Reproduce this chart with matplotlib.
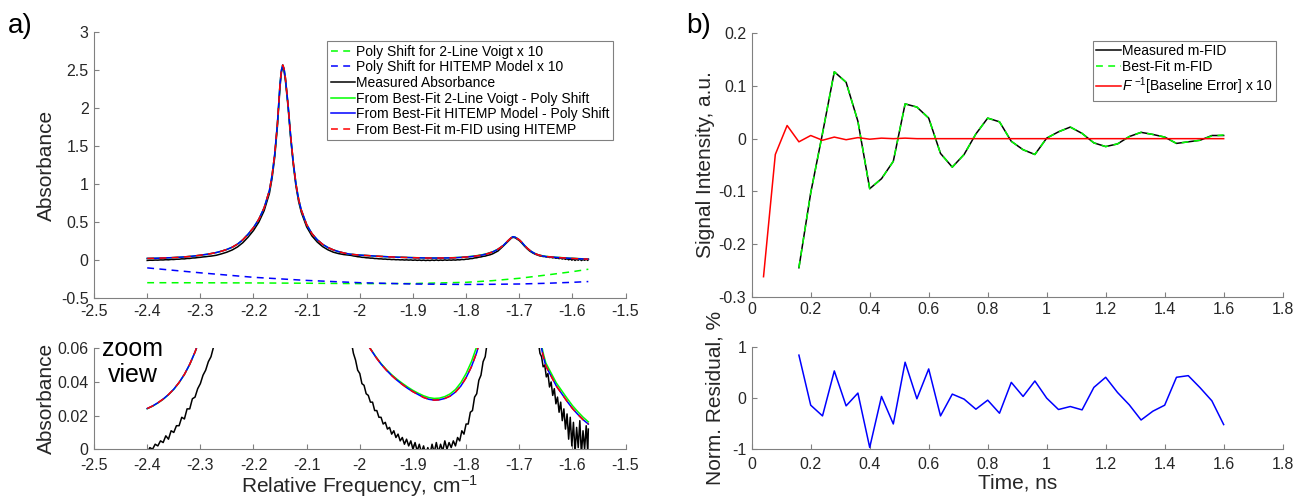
import numpy as np
import matplotlib
matplotlib.use("Agg")
import matplotlib.pyplot as plt
from matplotlib.ticker import FormatStrFormatter

plt.rcParams['font.family'] = ['Liberation Sans', 'DejaVu Sans']
plt.rcParams['mathtext.fontset'] = 'custom'
plt.rcParams['mathtext.rm'] = 'Liberation Sans'
plt.rcParams['mathtext.it'] = 'Liberation Sans:italic'
plt.rcParams['axes.unicode_minus'] = False

# ---------------- panel a): absorbance spectra (read from the figure) ----------------
fit_x = [-2.40, -2.39, -2.38, -2.37, -2.36, -2.35, -2.34, -2.33, -2.32, -2.31,
         -2.30, -2.29, -2.28, -2.27, -2.26, -2.25, -2.24, -2.23, -2.22, -2.21,
         -2.20, -2.19, -2.18, -2.17, -2.165, -2.16, -2.155, -2.15, -2.1475, -2.145,
         -2.1425, -2.14, -2.135, -2.13, -2.125, -2.12, -2.115, -2.11, -2.10, -2.09,
         -2.08, -2.07, -2.06, -2.05, -2.04, -2.03, -2.02, -2.01, -2.00, -1.99,
         -1.98, -1.97, -1.96, -1.95, -1.94, -1.93, -1.92, -1.91, -1.90, -1.89,
         -1.88, -1.87, -1.86, -1.85, -1.84, -1.83, -1.82, -1.81, -1.80, -1.79,
         -1.78, -1.77, -1.76, -1.75, -1.74, -1.73, -1.725, -1.72, -1.715, -1.712,
         -1.708, -1.70, -1.695, -1.69, -1.685, -1.68, -1.675, -1.67, -1.665, -1.66,
         -1.655, -1.65, -1.64, -1.63, -1.62, -1.61, -1.60, -1.59, -1.58, -1.57]

# best-fit HITEMP model (blue) and m-FID fit (red) coincide
fit_hitemp = [0.0242, 0.0257, 0.0276, 0.0298, 0.0325, 0.0357, 0.0397, 0.0445, 0.0505, 0.0578,
              0.0665, 0.0765, 0.0880, 0.1020, 0.1200, 0.1430, 0.1720, 0.2130, 0.2700, 0.3450,
              0.4300, 0.5400, 0.6900, 0.9200, 1.1200, 1.4000, 1.8000, 2.3300, 2.5000, 2.5700,
              2.5200, 2.4000, 2.0500, 1.6300, 1.2800, 1.0000, 0.8000, 0.6600, 0.4700, 0.3500,
              0.2700, 0.2100, 0.1680, 0.1370, 0.1140, 0.0960, 0.0820, 0.0745, 0.0685, 0.0640,
              0.0596, 0.0548, 0.0506, 0.0470, 0.0438, 0.0410, 0.0385, 0.0362, 0.0342, 0.0325,
              0.0308, 0.0297, 0.0292, 0.0294, 0.0302, 0.0316, 0.0340, 0.0375, 0.0425, 0.0490,
              0.0575, 0.0690, 0.0860, 0.1100, 0.1450, 0.1950, 0.2300, 0.2650, 0.2970, 0.3100,
              0.3050, 0.2700, 0.2350, 0.1950, 0.1600, 0.1300, 0.1060, 0.0870, 0.0730, 0.0630,
              0.0555, 0.0495, 0.0435, 0.0375, 0.0330, 0.0285, 0.0243, 0.0208, 0.0176, 0.0150]

# best-fit 2-line Voigt (green)
fit_voigt = [0.0241, 0.0256, 0.0275, 0.0297, 0.0324, 0.0356, 0.0396, 0.0444, 0.0504, 0.0577,
             0.0664, 0.0765, 0.0880, 0.1020, 0.1200, 0.1430, 0.1720, 0.2130, 0.2700, 0.3450,
             0.4300, 0.5400, 0.6900, 0.9200, 1.1200, 1.4000, 1.8000, 2.3300, 2.5000, 2.5700,
             2.5200, 2.4000, 2.0500, 1.6300, 1.2800, 1.0000, 0.8000, 0.6600, 0.4700, 0.3500,
             0.2700, 0.2100, 0.1680, 0.1370, 0.1140, 0.0960, 0.0820, 0.0745, 0.0686, 0.0641,
             0.0598, 0.0551, 0.0509, 0.0474, 0.0443, 0.0416, 0.0392, 0.0370, 0.0350, 0.0333,
             0.0318, 0.0307, 0.0302, 0.0304, 0.0313, 0.0329, 0.0355, 0.0395, 0.0450, 0.0520,
             0.0610, 0.0725, 0.0890, 0.1120, 0.1460, 0.1950, 0.2300, 0.2650, 0.2970, 0.3100,
             0.3050, 0.2700, 0.2350, 0.1950, 0.1600, 0.1300, 0.1070, 0.0885, 0.0745, 0.0648,
             0.0573, 0.0513, 0.0453, 0.0393, 0.0348, 0.0303, 0.0260, 0.0224, 0.0191, 0.0163]

meas_x = [-2.400, -2.395, -2.390, -2.385, -2.380, -2.375, -2.370, -2.365, -2.360, -2.355,
          -2.350, -2.345, -2.340, -2.335, -2.330, -2.325, -2.320, -2.315, -2.310, -2.305,
          -2.300, -2.295, -2.290, -2.285, -2.280, -2.275, -2.270, -2.26, -2.25, -2.24,
          -2.23, -2.22, -2.21, -2.20, -2.19, -2.18, -2.17, -2.165, -2.16, -2.155,
          -2.15, -2.1475, -2.145, -2.1425, -2.14, -2.135, -2.13, -2.125, -2.12, -2.115,
          -2.11, -2.10, -2.09, -2.08, -2.07, -2.06, -2.05, -2.04, -2.03, -2.02,
          -2.016, -2.012, -2.008, -2.004, -2.000, -1.996, -1.992, -1.988, -1.984, -1.980,
          -1.976, -1.972, -1.968, -1.964, -1.960, -1.956, -1.952, -1.948, -1.944, -1.940,
          -1.936, -1.932, -1.928, -1.924, -1.920, -1.916, -1.912, -1.908, -1.904, -1.900,
          -1.896, -1.892, -1.888, -1.884, -1.880, -1.876, -1.872, -1.868, -1.864, -1.860,
          -1.856, -1.852, -1.848, -1.844, -1.840, -1.836, -1.832, -1.828, -1.824, -1.820,
          -1.816, -1.812, -1.808, -1.804, -1.800, -1.796, -1.792, -1.788, -1.784, -1.780,
          -1.776, -1.772, -1.768, -1.764, -1.760, -1.755, -1.75, -1.74, -1.73, -1.725,
          -1.72, -1.715, -1.712, -1.708, -1.70, -1.695, -1.69, -1.685, -1.68, -1.675,
          -1.67, -1.664, -1.661, -1.658, -1.655, -1.652, -1.649, -1.646, -1.643, -1.640,
          -1.637, -1.634, -1.631, -1.628, -1.625, -1.622, -1.619, -1.616, -1.613, -1.610,
          -1.607, -1.604, -1.601, -1.598, -1.595, -1.592, -1.589, -1.586, -1.583, -1.580,
          -1.577, -1.574, -1.571, -1.570]

meas_abs = [-0.002, 0.001, 0.000, 0.003, 0.002, 0.005, 0.004, 0.008, 0.006, 0.011,
            0.010, 0.014, 0.014, 0.019, 0.018, 0.024, 0.024, 0.030, 0.031, 0.036,
            0.039, 0.044, 0.047, 0.052, 0.055, 0.061, 0.066, 0.085, 0.107, 0.136,
            0.176, 0.232, 0.306, 0.392, 0.502, 0.652, 0.882, 1.082, 1.362, 1.762,
            2.290, 2.470, 2.550, 2.490, 2.370, 2.020, 1.600, 1.250, 0.970, 0.770,
            0.630, 0.440, 0.320, 0.240, 0.180, 0.138, 0.107, 0.088, 0.075, 0.067,
            0.064, 0.057, 0.053, 0.047, 0.045, 0.039, 0.038, 0.033, 0.032, 0.028,
            0.028, 0.023, 0.023, 0.019, 0.019, 0.015, 0.016, 0.012, 0.013, 0.009,
            0.011, 0.007, 0.009, 0.005, 0.007, 0.003, 0.006, 0.002, 0.005, 0.000,
            0.004, -0.001, 0.003, -0.002, 0.002, -0.003, 0.001, -0.003, 0.003, -0.002,
            0.004, -0.002, 0.003, -0.001, 0.005, 0.000, 0.004, 0.001, 0.005, 0.002,
            0.007, 0.005, 0.011, 0.009, 0.015, 0.015, 0.022, 0.023, 0.031, 0.033,
            0.041, 0.044, 0.052, 0.055, 0.064, 0.072, 0.085, 0.122, 0.187, 0.222,
            0.258, 0.290, 0.302, 0.297, 0.260, 0.225, 0.185, 0.150, 0.120, 0.098,
            0.080, 0.064, 0.057, 0.055, 0.049, 0.050, 0.043, 0.045, 0.037, 0.040,
            0.032, 0.036, 0.027, 0.031, 0.022, 0.028, 0.017, 0.024, 0.012, 0.021,
            0.006, 0.019, 0.002, 0.016, -0.002, 0.013, 0.001, 0.017, -0.003, 0.011,
            0.000, 0.014, -0.002, 0.012]

poly_x = [-2.40, -2.30, -2.20, -2.10, -2.00, -1.90, -1.80, -1.75, -1.70, -1.65, -1.60, -1.57]
poly_voigt_x10 = [-0.295, -0.296, -0.298, -0.302, -0.307, -0.306, -0.290, -0.268, -0.237, -0.195, -0.150, -0.118]
poly_hitemp_x10 = [-0.100, -0.165, -0.224, -0.265, -0.295, -0.312, -0.318, -0.316, -0.312, -0.303, -0.290, -0.280]

# ---------------- panel b): m-FID (read from the figure) ----------------
t_err = [0.04, 0.08, 0.12, 0.16, 0.20, 0.24, 0.28, 0.32, 0.36, 0.40,
         0.44, 0.48, 0.52, 0.56, 0.60, 0.64, 0.68, 0.72, 0.76, 0.80,
         0.84, 0.88, 0.92, 0.96, 1.00, 1.04, 1.08, 1.12, 1.16, 1.20,
         1.24, 1.28, 1.32, 1.36, 1.40, 1.44, 1.48, 1.52, 1.56, 1.60]
baseline_err_x10 = [-0.262, -0.030, 0.025, -0.006, 0.006, -0.003, 0.003, -0.002, 0.002, -0.001,
                    0.001, 0.000, 0.001, 0.000, 0.000, 0.000, 0.000, 0.000, 0.000, 0.000,
                    0.000, 0.000, 0.000, 0.000, 0.000, 0.000, 0.000, 0.000, 0.000, 0.000,
                    0.000, 0.000, 0.000, 0.000, 0.000, 0.000, 0.000, 0.000, 0.000, 0.000]

t_fid = [0.16, 0.20, 0.24, 0.28, 0.32, 0.36, 0.40, 0.44, 0.48, 0.52,
         0.56, 0.60, 0.64, 0.68, 0.72, 0.76, 0.80, 0.84, 0.88, 0.92,
         0.96, 1.00, 1.04, 1.08, 1.12, 1.16, 1.20, 1.24, 1.28, 1.32,
         1.36, 1.40, 1.44, 1.48, 1.52, 1.56, 1.60]
meas_fid = [-0.245, -0.103, 0.010, 0.127, 0.107, 0.033, -0.095, -0.076, -0.043, 0.066,
            0.060, 0.039, -0.028, -0.054, -0.030, 0.009, 0.039, 0.032, -0.005, -0.021,
            -0.030, 0.001, 0.013, 0.022, 0.010, -0.008, -0.015, -0.010, 0.004, 0.012,
            0.008, 0.003, -0.009, -0.006, -0.003, 0.006, 0.006]
fit_fid = [-0.245, -0.103, 0.010, 0.127, 0.107, 0.033, -0.095, -0.076, -0.043, 0.066,
           0.060, 0.039, -0.028, -0.054, -0.030, 0.009, 0.039, 0.032, -0.005, -0.021,
           -0.030, 0.001, 0.013, 0.022, 0.010, -0.008, -0.015, -0.010, 0.004, 0.012,
           0.008, 0.003, -0.009, -0.006, -0.003, 0.005, 0.007]
resid_pct = [0.845, -0.139, -0.350, 0.535, -0.152, 0.099, -0.970, 0.033, -0.508, 0.706,
             -0.013, 0.574, -0.350, 0.079, -0.020, -0.218, -0.040, -0.297, 0.310, 0.033,
             0.337, 0.000, -0.224, -0.165, -0.231, 0.211, 0.410, 0.112, -0.132, -0.430,
             -0.257, -0.139, 0.410, 0.442, 0.205, -0.053, -0.520]

freq_ticks = [-2.5, -2.4, -2.3, -2.2, -2.1, -2.0, -1.9, -1.8, -1.7, -1.6, -1.5]
abs_ticks = [-0.5, 0, 0.5, 1, 1.5, 2, 2.5, 3]
zoom_ticks = [0, 0.02, 0.04, 0.06]
time_ticks = [0, 0.2, 0.4, 0.6, 0.8, 1, 1.2, 1.4, 1.6, 1.8]
sig_ticks = [-0.3, -0.2, -0.1, 0, 0.1, 0.2]
res_ticks = [-1, 0, 1]

# ---------------- drawing ----------------
GREEN, BLUE, RED = '#00ff00', '#0000ff', '#ff0000'
LW = 1.1
DASH = (4.5, 3.5)


def matlab_axes(ax):
    for s in ['top', 'right']:
        ax.spines[s].set_visible(False)
    for s in ['left', 'bottom']:
        ax.spines[s].set_color('#808080')
        ax.spines[s].set_linewidth(0.8)
    ax.tick_params(direction='in', length=3.5, width=0.8, color='#808080',
                   labelsize=11.5, labelcolor='#262626', pad=4)
    ax.xaxis.set_major_formatter(FormatStrFormatter('%g'))
    ax.yaxis.set_major_formatter(FormatStrFormatter('%g'))


fig = plt.figure(figsize=(13.01, 5.03), dpi=100)
ax1 = fig.add_axes([0.0723, 0.4070, 0.4085, 0.5288])
ax2 = fig.add_axes([0.0723, 0.1068, 0.4085, 0.2008])
ax3 = fig.add_axes([0.5778, 0.4101, 0.4081, 0.5237])
ax4 = fig.add_axes([0.5778, 0.1074, 0.4081, 0.2022])

# a) top
ax1.plot(poly_x, poly_voigt_x10, color=GREEN, lw=LW, dashes=DASH, label='Poly Shift for 2-Line Voigt x 10')
ax1.plot(poly_x, poly_hitemp_x10, color=BLUE, lw=LW, dashes=DASH, label='Poly Shift for HITEMP Model x 10')
ax1.plot(meas_x, meas_abs, color='black', lw=LW, label='Measured Absorbance')
ax1.plot(fit_x, fit_voigt, color=GREEN, lw=LW, label='From Best-Fit 2-Line Voigt - Poly Shift')
ax1.plot(fit_x, fit_hitemp, color=BLUE, lw=LW, label='From Best-Fit HITEMP Model - Poly Shift')
ax1.plot(fit_x, fit_hitemp, color=RED, lw=LW, dashes=DASH, label='From Best-Fit m-FID using HITEMP')
ax1.set_xlim(-2.5, -1.5)
ax1.set_ylim(-0.5, 3)
ax1.set_xticks(freq_ticks)
ax1.set_yticks(abs_ticks)
matlab_axes(ax1)
ax1.set_ylabel('Absorbance', fontsize=15, color='#262626')
ax1.yaxis.set_label_coords(-0.072, 0.5)
leg1 = ax1.legend(loc='upper right', bbox_to_anchor=(0.977, 0.967), fontsize=10,
                  frameon=True, fancybox=False, framealpha=1, edgecolor='#808080',
                  borderpad=0.25, labelspacing=0.12, handlelength=1.75,
                  handletextpad=0.1, borderaxespad=0)
leg1.get_frame().set_linewidth(0.8)

# a) zoom view
ax2.plot(meas_x, meas_abs, color='black', lw=LW)
ax2.plot(fit_x, fit_voigt, color=GREEN, lw=LW)
ax2.plot(fit_x, fit_hitemp, color=BLUE, lw=LW)
ax2.plot(fit_x, fit_hitemp, color=RED, lw=LW, dashes=DASH)
ax2.set_xlim(-2.5, -1.5)
ax2.set_ylim(0, 0.06)
ax2.set_xticks(freq_ticks)
ax2.set_yticks(zoom_ticks)
matlab_axes(ax2)
ax2.tick_params(axis='x', pad=6)
ax2.set_ylabel('Absorbance', fontsize=15, color='#262626')
ax2.yaxis.set_label_coords(-0.072, 0.5)
ax2.set_xlabel('Relative Frequency, cm$^{-1}$', fontsize=15, color='#262626', labelpad=0)
ax2.text(0.0724, 1.11, 'zoom\nview', transform=ax2.transAxes, ha='center', va='top',
         fontsize=18, linespacing=1.1)

# b) top
ax3.plot(t_fid, meas_fid, color='black', lw=LW, label='Measured m-FID')
ax3.plot(t_fid, fit_fid, color=GREEN, lw=LW, dashes=DASH, label='Best-Fit m-FID')
ax3.plot(t_err, baseline_err_x10, color=RED, lw=LW,
         label=r'$\mathit{F}^{\ \mathit{-1}}$[Baseline Error] x 10')
ax3.set_xlim(0, 1.8)
ax3.set_ylim(-0.3, 0.2)
ax3.set_xticks(time_ticks)
ax3.set_yticks(sig_ticks)
matlab_axes(ax3)
ax3.set_ylabel('Signal Intensity, a.u.', fontsize=15, color='#262626')
ax3.yaxis.set_label_coords(-0.07, 0.5)
leg3 = ax3.legend(loc='upper right', bbox_to_anchor=(0.988, 0.972), fontsize=10,
                  frameon=True, fancybox=False, framealpha=1, edgecolor='#808080',
                  borderpad=0.25, labelspacing=0.12, handlelength=1.75,
                  handletextpad=0.1, borderaxespad=0)
leg3.get_frame().set_linewidth(0.8)

# b) residual
ax4.plot(t_fid, resid_pct, color=BLUE, lw=LW)
ax4.set_xlim(0, 1.8)
ax4.set_ylim(-1, 1)
ax4.set_xticks(time_ticks)
ax4.set_yticks(res_ticks)
matlab_axes(ax4)
ax4.tick_params(axis='x', pad=6)
ax4.set_ylabel('Norm. Residual, %', fontsize=15, color='#262626')
ax4.yaxis.set_label_coords(-0.052, 0.5)
ax4.set_xlabel('Time, ns', fontsize=15, color='#262626', labelpad=1)

fig.text(0.006, 1 - 33 / 503, 'a)', fontsize=20, va='baseline')
fig.text(686 / 1301, 1 - 33 / 503, 'b)', fontsize=20, va='baseline')

fig.savefig('out.png', dpi=100)
